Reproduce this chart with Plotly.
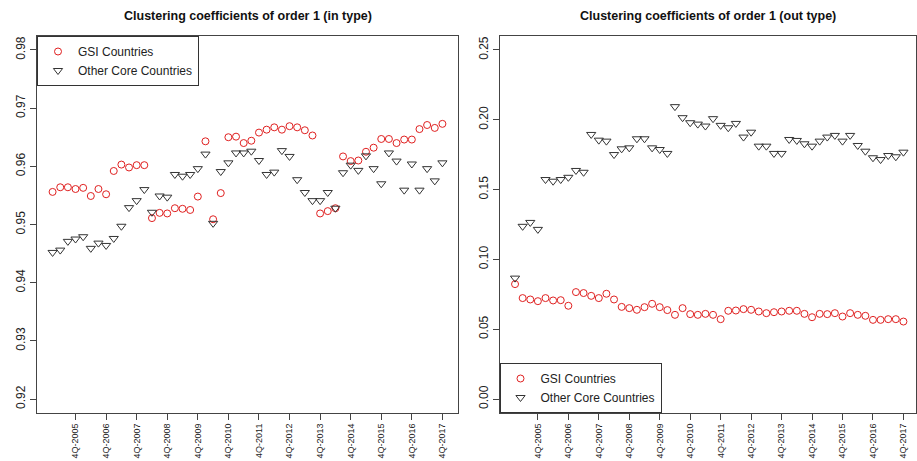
import plotly.graph_objects as go

# ---------------- data ----------------
quarters = list(range(1, 53))  # 1Q-2005 ... 4Q-2017
tick_idx = list(range(4, 53, 4))
tick_labels = ["4Q-%d" % y for y in range(2005, 2018)]

gsi_in = [0.9556, 0.9564, 0.9564, 0.9561, 0.9563, 0.9549, 0.9561, 0.9552,
          0.9592, 0.9603, 0.9598, 0.9602, 0.9602, 0.9511, 0.9520, 0.9519,
          0.9528, 0.9527, 0.9525, 0.9548, 0.9643, 0.9509, 0.9554, 0.9650,
          0.9651, 0.9640, 0.9644, 0.9658, 0.9663, 0.9667, 0.9663, 0.9669,
          0.9667, 0.9662, 0.9653, 0.9519, 0.9523, 0.9528, 0.9617, 0.9609,
          0.9610, 0.9625, 0.9632, 0.9647, 0.9647, 0.9640, 0.9646, 0.9646,
          0.9664, 0.9671, 0.9666, 0.9673]

core_in = [0.9452, 0.9456, 0.9471, 0.9475, 0.9479, 0.9459, 0.9468, 0.9464,
           0.9476, 0.9497, 0.9529, 0.9541, 0.9560, 0.9521, 0.9549, 0.9547,
           0.9586, 0.9583, 0.9586, 0.9596, 0.9621, 0.9502, 0.9591, 0.9606,
           0.9623, 0.9623, 0.9626, 0.9610, 0.9586, 0.9590, 0.9627, 0.9617,
           0.9577, 0.9555, 0.9541, 0.9541, 0.9555, 0.9528, 0.9589, 0.9602,
           0.9593, 0.9618, 0.9596, 0.9570, 0.9623, 0.9609, 0.9559, 0.9604,
           0.9559, 0.9596, 0.9575, 0.9606]

gsi_out = [0.0823, 0.0723, 0.0713, 0.0701, 0.0723, 0.0706, 0.0708, 0.0668,
           0.0766, 0.0759, 0.0739, 0.0723, 0.0754, 0.0713, 0.0660, 0.0651,
           0.0639, 0.0658, 0.0682, 0.0658, 0.0637, 0.0603, 0.0651, 0.0608,
           0.0603, 0.0610, 0.0603, 0.0572, 0.0632, 0.0634, 0.0644, 0.0639,
           0.0627, 0.0615, 0.0622, 0.0627, 0.0632, 0.0632, 0.0610, 0.0586,
           0.0610, 0.0608, 0.0615, 0.0591, 0.0615, 0.0603, 0.0596, 0.0567,
           0.0567, 0.0572, 0.0572, 0.0555]

core_out = [0.0866, 0.1237, 0.1265, 0.1215, 0.1572, 0.1560, 0.1572, 0.1588,
            0.1637, 0.1624, 0.1895, 0.1854, 0.1847, 0.1751, 0.1792, 0.1799,
            0.1864, 0.1864, 0.1799, 0.1787, 0.1759, 0.2094, 0.2015, 0.1979,
            0.1969, 0.1955, 0.2008, 0.1960, 0.1943, 0.1974, 0.1876, 0.1911,
            0.1811, 0.1811, 0.1759, 0.1759, 0.1859, 0.1852, 0.1828, 0.1811,
            0.1847, 0.1876, 0.1888, 0.1847, 0.1888, 0.1816, 0.1775, 0.1728,
            0.1715, 0.1744, 0.1735, 0.1768]

left_title = "Clustering coefficients of order 1 (in type)"
right_title = "Clustering coefficients of order 1 (out type)"
left_yticks = [0.92, 0.93, 0.94, 0.95, 0.96, 0.97, 0.98]
right_yticks = [0.00, 0.05, 0.10, 0.15, 0.20, 0.25]

# ---------------- figure ----------------
W, H = 917, 461
RED = "#E02020"
DARK = "#333333"
FONT = "Liberation Sans, Arial, sans-serif"

gsi_marker = dict(symbol="circle-open", size=7, color=RED, line=dict(width=1, color=RED))
core_marker = dict(symbol="triangle-down-open", size=8, color=DARK, line=dict(width=1, color=DARK))

fig = go.Figure()
fig.add_trace(go.Scatter(x=quarters, y=gsi_in, mode="markers", name="GSI Countries",
                         marker=gsi_marker, xaxis="x", yaxis="y", legend="legend"))
fig.add_trace(go.Scatter(x=quarters, y=core_in, mode="markers", name="Other Core Countries",
                         marker=core_marker, xaxis="x", yaxis="y", legend="legend"))
fig.add_trace(go.Scatter(x=quarters, y=gsi_out, mode="markers", name="GSI Countries",
                         marker=gsi_marker, xaxis="x2", yaxis="y2", legend="legend2"))
fig.add_trace(go.Scatter(x=quarters, y=core_out, mode="markers", name="Other Core Countries",
                         marker=core_marker, xaxis="x2", yaxis="y2", legend="legend2"))

top, bottom = 36, 413
ydom = [(H - bottom) / H, (H - top) / H]
lx0, lx1 = 37, 458
rx0, rx1 = 499.5, 916

axis_common = dict(showline=True, mirror=True, linecolor="#444444", linewidth=1,
                   showgrid=False, zeroline=False, ticks="outside", ticklen=6,
                   tickcolor="#444444", tickwidth=1)

xcommon = dict(axis_common, tickmode="array", tickvals=tick_idx, ticktext=tick_labels,
               tickangle=-90, tickfont=dict(family=FONT, size=9, color="#222222"))
ycommon = dict(axis_common, tickangle=-90, tickfont=dict(family=FONT, size=12, color="#222222"))

legend_common = dict(xanchor="left", bordercolor="#333333", borderwidth=1, bgcolor="white",
                     font=dict(family=FONT, size=12, color="#222222"),
                     itemsizing="trace", itemwidth=30, tracegroupgap=0)

fig.update_layout(
    width=W, height=H, margin=dict(l=0, r=0, t=0, b=0),
    paper_bgcolor="white", plot_bgcolor="white",
    font=dict(family=FONT, size=12, color="#222222"),
    xaxis=dict(xcommon, domain=[lx0 / W, lx1 / W], range=[-1.04, 54.04], anchor="y"),
    yaxis=dict(ycommon, domain=ydom, range=[0.9176, 0.9824], tickvals=left_yticks,
               ticktext=["%.2f" % v for v in left_yticks], anchor="x"),
    xaxis2=dict(xcommon, domain=[rx0 / W, rx1 / W], range=[-1.04, 53.65], anchor="y2"),
    yaxis2=dict(ycommon, domain=ydom, range=[-0.01, 0.26], tickvals=right_yticks,
                ticktext=["%.2f" % v for v in right_yticks], anchor="x2"),
    legend=dict(legend_common, x=lx0 / W, y=(H - top) / H, yanchor="top"),
    legend2=dict(legend_common, x=rx0 / W, y=(H - bottom) / H, yanchor="bottom"),
    annotations=[
        dict(text="<b>%s</b>" % left_title, x=(lx0 + lx1) / 2 / W, y=(H - 16) / H,
             xref="paper", yref="paper", showarrow=False, xanchor="center", yanchor="middle",
             font=dict(family=FONT, size=12.5, color="#111111")),
        dict(text="<b>%s</b>" % right_title, x=(rx0 + rx1) / 2 / W, y=(H - 16) / H,
             xref="paper", yref="paper", showarrow=False, xanchor="center", yanchor="middle",
             font=dict(family=FONT, size=12.5, color="#111111")),
    ],
)

fig.write_html("out.html")
